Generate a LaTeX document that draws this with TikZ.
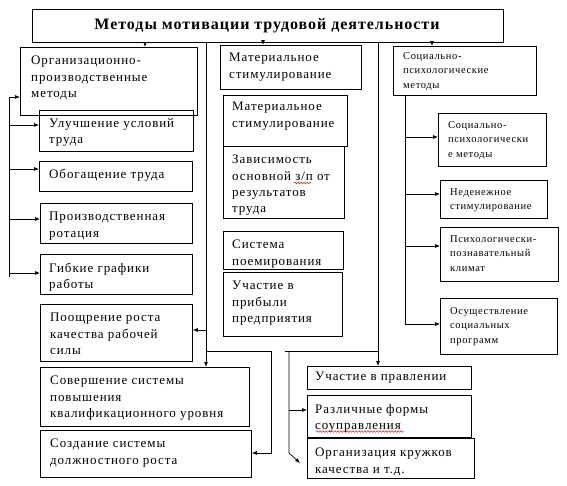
\documentclass[tikz,border=0pt]{standalone}
\usepackage{fontspec}
\setmainfont{Liberation Serif}[LetterSpace=7]
\newfontfamily\ttlfont{Liberation Serif}[LetterSpace=6]
\newfontfamily\smfont{Liberation Serif}[LetterSpace=6]
\usetikzlibrary{arrows.meta,decorations.pathmorphing}
\newcommand{\bx}[5]{\node[bxs, minimum width={(#4-#2)*1pt}, minimum height={(#5-#3)*1pt}] (#1) at (#2,#3) {};}
\tikzset{
  bxs/.style={draw, line width=0.8pt, inner sep=0pt, anchor=north west},
  txt/.style={anchor=north west, inner sep=0pt, align=left, font=\fontsize{13}{16.3}\selectfont},
  sm/.style={anchor=north west, inner sep=0pt, align=left, font=\smfont\fontsize{10.5}{14.5}\selectfont},
  ln/.style={line width=0.7pt},
  arr/.style={line width=0.7pt, -{Latex[length=5pt,width=4pt]}},
  wavy/.style={red, line width=0.45pt, decorate, decoration={snake, amplitude=0.8pt, segment length=3pt}}
}
\begin{document}
\begin{tikzpicture}[x=1pt, y=-1pt]
\useasboundingbox[fill=white] (0,0) rectangle (567,485);
% title
\bx{title}{32}{9}{503}{42}
\node[font=\ttlfont\fontsize{16}{18}\selectfont\bfseries] (titlet) at (267,26) {Методы мотивации трудовой деятельности};
% left column
\bx{org}{20}{47}{197}{115}
\node[txt] (orgt) at (31,56) {Организационно-\\производственные\\методы};
\bx{ul}{39}{110}{193}{151}
\node[txt] (ult) at (49,118) {Улучшение условий\\труда};
\bx{ob}{39}{161}{192}{191}
\node[txt] (obt) at (49,169) {Обогащение труда};
\bx{pr}{40}{203}{192}{243}
\node[txt] (prt) at (49,212) {Производственная\\ротация};
\bx{gi}{40}{254}{192}{294}
\node[txt] (git) at (49,263) {Гибкие графики\\работы};
\bx{po}{40}{304}{192}{361}
\node[txt] (pot) at (50,313) {Поощрение роста\\качества рабочей\\силы};
\bx{so}{40}{367}{249}{426}
\node[txt] (sot) at (50,376) {Совершение системы\\повышения\\квалификационного уровня};
\bx{sz}{40}{430}{251}{477}
\node[txt] (szt) at (50,439) {Создание системы\\должностного роста};
% middle column
\bx{ma}{220}{45}{361}{89}
\node[txt] (mat) at (229,53) {Материальное\\стимулирование};
\bx{mb}{223}{95}{347}{146}
\node[txt] (mbt) at (232,102) {Материальное\\стимулирование};
\bx{za}{223}{146}{344}{218}
\node[txt] (zat) at (232,155) {Зависимость\\основной з/п от\\результатов\\труда};
\bx{si}{223}{231}{343}{269}
\node[txt] (sit) at (232,240) {Система\\поемирования};
\bx{up}{223}{272}{342}{336}
\node[txt] (upt) at (232,281) {Участие в\\прибыли\\предприятия};
% right column
\bx{sp}{393}{46}{536}{95}
\node[sm] (spt) at (403,52) {Социально-\\психологические\\методы};
\bx{ra}{438}{113}{546}{166}
\node[sm] (rat) at (448,121) {Социально-\\психологически\\е методы};
\bx{rb}{440}{180}{547}{218}
\node[sm] (rbt) at (450,188) {Неденежное\\стимулирование};
\bx{rc}{440}{227}{558}{281}
\node[sm] (rct) at (450,235) {Психологически-\\познавательный\\климат};
\bx{rd}{440}{298}{557}{354}
\node[sm] (rdt) at (450,307) {Осуществление\\социальных\\программ};
% bottom right
\bx{pv}{307}{366}{471}{389}
\node[txt] (pvt) at (315,372) {Участие в правлении};
\bx{rf}{307}{395}{471}{437}
\node[txt] (rft) at (315,404) {Различные формы\\соуправления};
\bx{ok}{307}{438}{474}{478}
\node[txt] (okt) at (315,448) {Организация кружков\\качества и т.д.};
% spell-check wavy underlines
\draw[wavy] (294,183) -- (311,183);
\draw[wavy] (316,431.5) -- (404,431.5);
% connectors from title
\draw[arr] (title.south -| 145,0) -- (org.north -| 145,0);
\draw[arr] (title.south -| 263,0) -- (ma.north -| 263,0);
\draw[arr] (title.south -| 432,0) -- (sp.north -| 432,0);
\draw[arr] (title.south -| 206,0) -- (so.north -| 206,0);
\draw[arr] (title.south -| 378,0) -- (pv.north -| 378,0);
% left bus
\coordinate (lbT) at (9,97);
\coordinate (lbB) at (9,277);
\draw[ln] (lbB) -- (lbT);
\draw[arr] (lbT) -- (org.west |- lbT);
\draw[arr] (9,125) -- (ul.west |- 9,125);
\draw[arr] (9,169) -- (ob.west |- 9,169);
\draw[arr] (9,219) -- (pr.west |- 9,219);
\draw[arr] (9,273) -- (gi.west |- 9,273);
% middle branches
\draw[arr] (206,330) -- (po.east |- 206,330);
\draw[arr] (206,351) -- (271,351) -- (271,453) -- (sz.east |- 271,453);
% right bottom branches
\draw[ln] (285,351) -- (378,351);
\draw[arr] (289,351) -- (289,453) -- (300,463);
\draw[arr] (289,410) -- (rf.west |- 289,410);
% right bus
\coordinate (rbT) at (405,95);
\coordinate (rbB) at (405,324);
\draw[ln] (rbT) -- (rbB);
\draw[arr] (405,137) -- (ra.west |- 405,137);
\draw[arr] (405,194) -- (rb.west |- 405,194);
\draw[arr] (405,246) -- (rc.west |- 405,246);
\draw[arr] (rbB) -- (rd.west |- rbB);
\end{tikzpicture}
\end{document}
